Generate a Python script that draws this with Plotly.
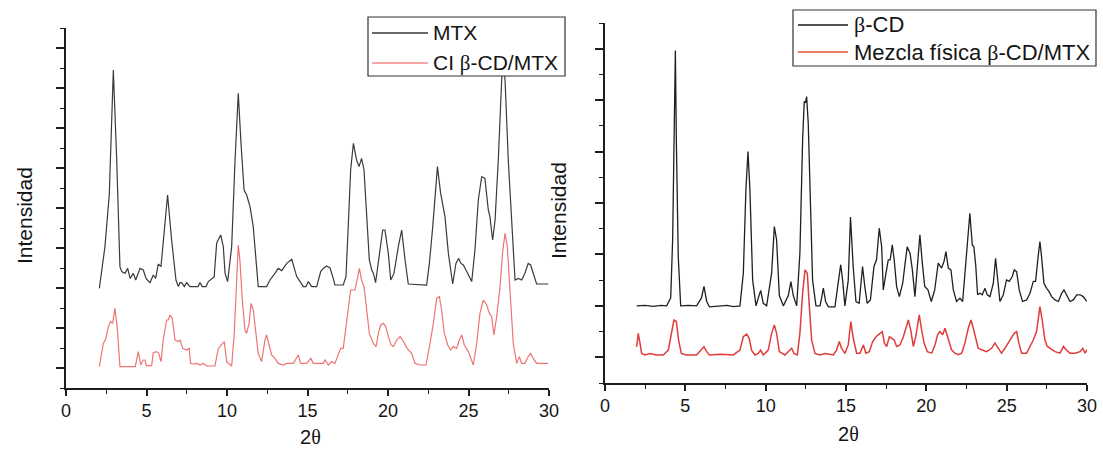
import plotly.graph_objects as go

# ---------------------------------------------------------------------------
# Diffractogram data (2θ in degrees, intensity in arbitrary, offset units)
# ---------------------------------------------------------------------------
mtx_x = [2.07, 2.42, 2.69, 2.94, 3.15, 3.35, 3.46, 3.66, 3.83, 3.98, 4.18, 4.33, 4.60, 4.80, 4.97,
         5.22, 5.42, 5.57, 5.73, 5.90, 6.09, 6.31, 6.56, 6.83, 6.98, 7.08, 7.18, 7.35, 7.49, 7.70,
         8.20, 8.32, 8.47, 8.70, 8.84, 9.05, 9.20, 9.36, 9.61, 9.77, 9.88, 10.04, 10.29, 10.50,
         10.70, 10.87, 11.06, 11.22, 11.43, 11.63, 11.84, 11.94, 12.46, 12.67, 12.98, 13.18, 13.40,
         13.71, 14.02, 14.16, 14.33, 14.54, 14.74, 14.90, 15.05, 15.26, 15.57, 15.82, 15.98, 16.19,
         16.40, 16.60, 16.70, 17.22, 17.39, 17.53, 17.68, 17.85, 18.05, 18.20, 18.36, 18.51, 18.68,
         18.84, 18.99, 19.10, 19.23, 19.50, 19.67, 19.81, 20.02, 20.17, 20.37, 20.64, 20.85, 21.06,
         21.26, 22.40, 22.57, 22.78, 23.07, 23.27, 23.54, 23.75, 24.02, 24.22, 24.39, 24.53, 24.68,
         24.89, 25.20, 25.40, 25.61, 25.82, 26.02, 26.23, 26.33, 26.50, 26.65, 26.85, 27.06, 27.16,
         27.27, 27.47, 27.68, 27.89, 28.10, 28.30, 28.50, 28.71, 28.86, 29.02, 29.23, 29.95]
mtx_y = [4.98, 7.07, 9.70, 15.90, 11.40, 6.07, 5.82, 5.73, 5.98, 5.48, 5.73, 5.40, 5.98, 5.90, 5.48,
         5.27, 5.65, 5.48, 6.20, 6.07, 7.73, 9.65, 7.40, 5.40, 5.07, 5.27, 5.27, 5.07, 5.27, 5.07,
         5.07, 5.27, 5.07, 5.07, 5.32, 5.48, 5.55, 7.25, 7.65, 7.07, 5.73, 5.32, 7.07, 11.40,
         14.73, 12.23, 9.90, 9.65, 9.07, 8.07, 5.73, 5.07, 5.07, 5.40, 5.73, 5.98, 5.87,
         6.23, 6.43, 6.07, 5.57, 5.32, 5.07, 5.07, 5.32, 5.07, 5.07, 5.82, 5.98, 6.10,
         6.00, 5.48, 5.15, 5.15, 5.57, 8.07, 10.90, 12.23, 11.40, 11.07, 11.48, 10.90, 8.40,
         6.40, 5.90, 5.73, 5.27, 7.07, 7.90, 7.90, 6.73, 5.40, 5.73, 7.07, 7.90, 6.40,
         5.20, 5.15, 6.23, 8.07, 11.07, 9.73, 8.57, 6.73, 5.20, 6.23, 6.48, 6.23, 6.15,
         5.82, 5.32, 6.90, 9.40, 10.57, 10.48, 8.90, 8.57, 7.40, 8.40, 11.40, 15.40, 16.30,
         15.40, 11.40, 8.07, 5.40, 5.48, 5.40, 5.73, 6.23, 6.15, 5.73, 5.20, 5.20]

ci_x = [2.07, 2.32, 2.48, 2.63, 2.77, 2.90, 3.04, 3.18, 3.35, 4.30, 4.49, 4.64, 4.80, 4.90, 5.00,
        5.32, 5.42, 5.63, 5.75, 5.90, 6.04, 6.25, 6.35, 6.46, 6.60, 6.77, 6.98, 7.08, 7.25, 7.50,
        7.65, 7.74, 7.90, 8.12, 8.32, 8.53, 8.74, 9.25, 9.46, 9.67, 9.83, 9.98, 10.29, 10.45,
        10.60, 10.70, 10.80, 10.95, 11.12, 11.22, 11.37, 11.49, 11.63, 11.78, 11.94, 12.15, 12.36,
        12.46, 12.60, 12.77, 12.98, 13.18, 13.50, 13.71, 14.12, 14.43, 14.57, 14.95, 15.20, 15.36,
        15.98, 16.09, 16.30, 16.50, 16.70, 16.91, 17.06, 17.22, 17.43, 17.68, 17.95, 18.10, 18.22,
        18.36, 18.51, 18.68, 18.84, 19.09, 19.26, 19.40, 19.55, 19.71, 19.86, 20.02, 20.19, 20.33,
        20.54, 20.75, 20.91, 21.13, 21.26, 21.47, 21.68, 21.99, 22.36, 22.61, 22.82, 23.02, 23.19,
        23.33, 23.50, 23.71, 23.89, 24.05, 24.26, 24.43, 24.58, 24.74, 24.99, 25.30, 25.51, 25.71,
        25.92, 26.13, 26.30, 26.44, 26.58, 26.75, 26.96, 27.12, 27.27, 27.41, 27.58, 27.78, 27.99,
        28.16, 28.30, 28.50, 28.71, 28.86, 29.02, 29.23, 29.95]
ci_y = [1.07, 2.23, 2.48, 3.07, 3.32, 3.23, 3.98, 3.07, 1.07, 1.07, 1.82, 1.15, 1.40, 1.40, 1.12,
        1.12, 1.77, 1.82, 1.75, 1.32, 2.40, 3.40, 3.40, 3.65, 3.48, 2.40, 2.32, 2.40, 1.98, 1.90,
        1.98, 1.23, 1.20, 1.23, 1.15, 1.23, 1.10, 1.10, 1.98, 2.15, 2.32, 1.32, 1.10, 2.73,
        5.57, 7.15, 6.40, 4.40, 2.90, 2.73, 3.23, 4.23, 3.90, 2.90, 1.73, 1.32, 2.40,
        2.65, 2.23, 1.65, 1.48, 1.23, 1.15, 1.23, 1.23, 1.65, 1.23, 1.23, 1.48, 1.23,
        1.23, 1.40, 1.15, 1.32, 1.23, 1.65, 1.98, 1.98, 3.23, 4.90, 4.90, 5.48, 5.98,
        5.40, 5.07, 3.90, 2.73, 2.23, 2.07, 2.73, 3.15, 3.23, 3.07, 2.57, 2.15, 2.07,
        2.40, 2.57, 2.40, 2.07, 1.90, 1.73, 1.23, 1.15, 1.15, 2.23, 3.23, 4.48, 4.57,
        3.90, 2.73, 2.15, 1.90, 2.07, 1.98, 2.40, 2.65, 2.15, 1.82, 1.15, 2.23, 3.73,
        4.40, 4.15, 3.73, 3.57, 2.65, 3.57, 5.07, 6.82, 7.73, 7.07, 4.73, 2.23, 1.23,
        1.57, 1.23, 1.23, 1.57, 1.73, 1.48, 1.23, 1.23]

bcd_x = [1.97, 2.50, 3.00, 3.50, 3.84, 4.09, 4.21, 4.29, 4.38, 4.44, 4.56, 4.71, 5.20, 5.70, 6.00,
         6.16, 6.33, 6.50, 7.16, 7.60, 7.98, 8.40, 8.61, 8.77, 8.90, 9.02, 9.19, 9.40, 9.54, 9.69,
         9.85, 10.06, 10.37, 10.54, 10.68, 10.85, 11.10, 11.41, 11.57, 11.72, 11.93, 12.13, 12.30,
         12.40, 12.48, 12.55, 12.65, 12.76, 12.92, 13.13, 13.38, 13.48, 13.59, 13.73, 13.90, 14.31,
         14.52, 14.67, 14.79, 14.93, 15.14, 15.28, 15.45, 15.62, 15.82, 16.03, 16.17, 16.32, 16.52,
         16.74, 16.90, 17.07, 17.22, 17.32, 17.49, 17.63, 17.75, 17.88, 18.00, 18.15, 18.32, 18.53,
         18.68, 18.81, 18.99, 19.13, 19.29, 19.46, 19.60, 19.75, 19.90, 20.10, 20.31, 20.52, 20.74,
         20.95, 21.10, 21.22, 21.37, 21.53, 21.68, 21.88, 22.09, 22.26, 22.46, 22.61, 22.71, 22.86,
         22.96, 23.08, 23.19, 23.33, 23.48, 23.65, 23.79, 23.96, 24.17, 24.31, 24.44, 24.58, 24.79,
         24.99, 25.16, 25.35, 25.47, 25.62, 25.78, 25.99, 26.24, 26.45, 26.66, 26.80, 26.96, 27.07,
         27.17, 27.32, 27.49, 27.63, 27.80, 28.01, 28.22, 28.42, 28.57, 28.74, 28.94, 29.15, 29.36,
         29.57, 29.77, 29.98]
bcd_y = [3.00, 3.02, 2.98, 3.02, 3.00, 3.31, 5.57, 9.45, 12.93, 9.45, 4.92, 3.00, 3.02, 3.00, 3.30,
         3.76, 3.17, 2.96, 2.98, 3.02, 2.97, 3.00, 4.27, 7.51, 9.00, 7.51, 4.00, 3.00, 3.30, 3.60,
         3.10, 3.00, 4.27, 6.08, 5.57, 3.40, 3.00, 3.40, 3.94, 3.40, 3.00, 5.04, 9.45,
         10.95, 10.90, 11.14, 10.10, 7.51, 4.00, 3.00, 3.00, 3.30, 3.69, 3.17, 2.96, 2.96,
         3.82, 4.60, 4.00, 3.00, 4.00, 6.45, 4.50, 3.17, 3.10, 4.53, 3.75, 3.10, 3.23,
         4.53, 4.79, 6.02, 5.30, 3.62, 4.27, 4.79, 4.79, 5.37, 4.79, 3.75, 3.36, 3.88,
         4.66, 5.30, 5.04, 4.40, 3.36, 4.53, 5.76, 4.66, 3.75, 3.62, 3.17, 3.62, 4.66,
         4.47, 4.73, 5.11, 4.47, 4.40, 3.62, 3.17, 3.30, 3.17, 4.66, 5.95, 6.60, 5.37,
         5.30, 4.53, 3.43, 3.49, 3.43, 3.68, 3.43, 3.36, 3.88, 4.85, 4.01, 3.17, 3.43,
         4.01, 3.95, 4.14, 4.40, 4.33, 3.62, 3.17, 3.23, 3.49, 3.95, 3.95, 4.92, 5.50,
         4.92, 3.88, 3.68, 3.56, 3.36, 3.23, 3.17, 3.49, 3.62, 3.43, 3.17, 3.23, 3.43,
         3.43, 3.36, 3.17]

mix_x = [1.97, 2.07, 2.18, 2.28, 2.49, 2.80, 3.21, 3.63, 3.94, 4.15, 4.29, 4.44, 4.58, 4.75, 5.06,
         5.70, 5.91, 6.16, 6.33, 6.50, 7.20, 7.98, 8.40, 8.61, 8.82, 8.98, 9.12, 9.33, 9.54, 9.69,
         9.85, 10.16, 10.37, 10.54, 10.68, 10.85, 11.20, 11.41, 11.62, 11.76, 11.97, 12.13, 12.30,
         12.45, 12.59, 12.72, 12.86, 13.07, 13.38, 13.69, 14.21, 14.41, 14.58, 14.72, 14.93, 15.14,
         15.30, 15.45, 15.66, 15.87, 16.08, 16.24, 16.45, 16.66, 16.87, 17.12, 17.26, 17.39, 17.53,
         17.70, 17.84, 18.00, 18.15, 18.36, 18.57, 18.74, 18.88, 19.03, 19.19, 19.34, 19.46, 19.56,
         19.71, 19.86, 20.06, 20.33, 20.54, 20.70, 20.85, 21.01, 21.16, 21.30, 21.43, 21.57, 21.78,
         21.99, 22.20, 22.40, 22.61, 22.78, 22.92, 23.08, 23.23, 23.44, 23.75, 24.06, 24.27, 24.48,
         24.68, 24.89, 25.10, 25.31, 25.47, 25.62, 25.76, 25.93, 26.24, 26.45, 26.66, 26.86, 26.96,
         27.07, 27.21, 27.38, 27.53, 27.69, 28.01, 28.32, 28.53, 28.70, 28.94, 29.26, 29.57, 29.73,
         29.88, 30.00]
mix_y = [1.41, 1.93, 1.54, 1.15, 1.09, 1.15, 1.09, 1.09, 1.28, 1.93, 2.45, 2.39, 1.67, 1.15, 1.09,
         1.09, 1.22, 1.41, 1.22, 1.09, 1.12, 1.09, 1.28, 1.80, 1.90, 1.73, 1.28, 1.09, 1.15, 1.28,
         1.09, 1.28, 1.93, 2.26, 1.93, 1.22, 1.09, 1.22, 1.35, 1.15, 1.09, 1.93, 3.49,
         4.40, 4.27, 2.97, 1.67, 1.15, 1.09, 1.15, 1.09, 1.28, 1.61, 1.35, 1.15, 1.48,
         2.39, 1.75, 1.16, 1.16, 1.48, 1.16, 1.22, 1.61, 1.80, 1.93, 2.00, 1.55, 1.42,
         1.80, 1.74, 1.67, 1.42, 1.48, 1.80, 2.19, 2.45, 2.06, 1.42, 1.80, 2.26, 2.65,
         2.06, 1.55, 1.22, 1.16, 1.48, 1.87, 2.00, 1.87, 2.13, 1.87, 1.55, 1.29, 1.16,
         1.10, 1.16, 1.55, 2.13, 2.45, 2.13, 1.67, 1.35, 1.29, 1.22, 1.35, 1.55, 1.35,
         1.16, 1.35, 1.55, 1.74, 1.93, 2.00, 1.55, 1.16, 1.16, 1.42, 1.67, 2.00, 2.58,
         2.97, 2.45, 1.67, 1.42, 1.35, 1.22, 1.16, 1.42, 1.29, 1.16, 1.16, 1.22, 1.35,
         1.16, 1.30]

x_ticks = [0, 5, 10, 15, 20, 25, 30]

# ---------------------------------------------------------------------------
W, H = 1103, 451
SANS = "Liberation Sans, Arial, sans-serif"
SERIF = "Liberation Serif"
AXIS_COLOR = "#1e1e1e"


def px(x):
    return x / W


def py(y):
    return (H - y) / H


def greek(ch):
    return f'<span style="font-family:{SERIF}">{ch}</span>'


series = [
    dict(name="MTX", x=mtx_x, y=mtx_y, color="#3a3a3a", width=1.2, ax="x", ay="y"),
    dict(name="CI " + greek("β") + "-CD/MTX", x=ci_x, y=ci_y, color="#ee7474", width=1.2,
         ax="x", ay="y"),
    dict(name=greek("β") + "-CD", x=bcd_x, y=bcd_y, color="#202020", width=1.3, ax="x2", ay="y2"),
    dict(name="Mezcla física " + greek("β") + "-CD/MTX", x=mix_x, y=mix_y, color="#e03c3c",
         width=1.5, ax="x2", ay="y2"),
]

fig = go.Figure()
for s in series:
    fig.add_trace(go.Scatter(x=s["x"], y=s["y"], mode="lines", name=s["name"],
                             line=dict(color=s["color"], width=s["width"]),
                             xaxis=s["ax"], yaxis=s["ay"], showlegend=False,
                             hoverinfo="skip"))

xcommon = dict(range=[0, 30], tickvals=x_ticks, ticktext=[str(v) for v in x_ticks],
               showline=True, linecolor=AXIS_COLOR, linewidth=1.5, ticks="outside",
               ticklen=6, tickwidth=1.5, tickcolor=AXIS_COLOR, showgrid=False, zeroline=False,
               tickfont=dict(family=SANS, size=18, color="#151515"), automargin=False,
               minor=dict(dtick=2.5, tick0=0, ticks="outside", ticklen=4, tickwidth=1.2,
                          tickcolor=AXIS_COLOR, showgrid=False))
ycommon = dict(showline=True, linecolor=AXIS_COLOR, linewidth=1.5, ticks="outside",
               ticklen=8, tickwidth=1.6, tickcolor=AXIS_COLOR, showgrid=False, zeroline=False,
               showticklabels=False, tick0=1, dtick=2, automargin=False,
               minor=dict(dtick=1, tick0=0, ticks="outside", ticklen=4, tickwidth=1.2,
                          tickcolor=AXIS_COLOR, showgrid=False))

fig.update_layout(
    width=W, height=H,
    margin=dict(l=0, r=0, t=0, b=0),
    paper_bgcolor="white", plot_bgcolor="white",
    showlegend=False,
    xaxis=dict(domain=[px(66), px(549)], anchor="y", **xcommon),
    yaxis=dict(domain=[py(388), py(28)], anchor="x", range=[0, 18], **ycommon),
    xaxis2=dict(domain=[px(605), px(1087)], anchor="y2", **xcommon),
    yaxis2=dict(domain=[py(383), py(23)], anchor="x2", range=[0, 14], **ycommon),
)

annotations = []
shapes = []

# Axis titles
for xx, yy in [(25, 216), (558, 211)]:
    annotations.append(dict(x=px(xx), y=py(yy), xref="paper", yref="paper", text="Intensidad",
                            textangle=-90, showarrow=False, xanchor="center", yanchor="middle",
                            font=dict(family=SANS, size=21, color="#151515")))
for xx, yy in [(310, 437), (848, 434)]:
    annotations.append(dict(x=px(xx), y=py(yy), xref="paper", yref="paper",
                            text="2" + greek("θ"), showarrow=False, xanchor="center",
                            yanchor="middle", font=dict(family=SANS, size=20, color="#151515")))

# Legend boxes (drawn above the curves so they hide what lies beneath)
legends = [
    dict(box=(368, 17, 565, 76), line=(372, 428), text_x=431, rows=[33, 63], size=21,
         items=[0, 1], colors=["#3a3a3a", "#f08a86"]),
    dict(box=(793, 10, 1096, 66), line=(798, 848), text_x=852, rows=[25, 52], size=22,
         items=[2, 3], colors=["#1a1a1a", "#e8502e"]),
]
for lg in legends:
    x0, y0, x1, y1 = lg["box"]
    shapes.append(dict(type="rect", xref="paper", yref="paper", x0=px(x0), x1=px(x1),
                       y0=py(y1), y1=py(y0), line=dict(color="#333333", width=1.2),
                       fillcolor="white", layer="above"))
    for idx, row, col in zip(lg["items"], lg["rows"], lg["colors"]):
        shapes.append(dict(type="line", xref="paper", yref="paper", x0=px(lg["line"][0]),
                           x1=px(lg["line"][1]), y0=py(row), y1=py(row),
                           line=dict(color=col, width=1.3), layer="above"))
        annotations.append(dict(x=px(lg["text_x"]), y=py(row), xref="paper", yref="paper",
                                text=series[idx]["name"], showarrow=False, xanchor="left",
                                yanchor="middle",
                                font=dict(family=SANS, size=lg["size"], color="#151515")))

fig.update_layout(annotations=annotations, shapes=shapes)
fig.write_html("out.html")
